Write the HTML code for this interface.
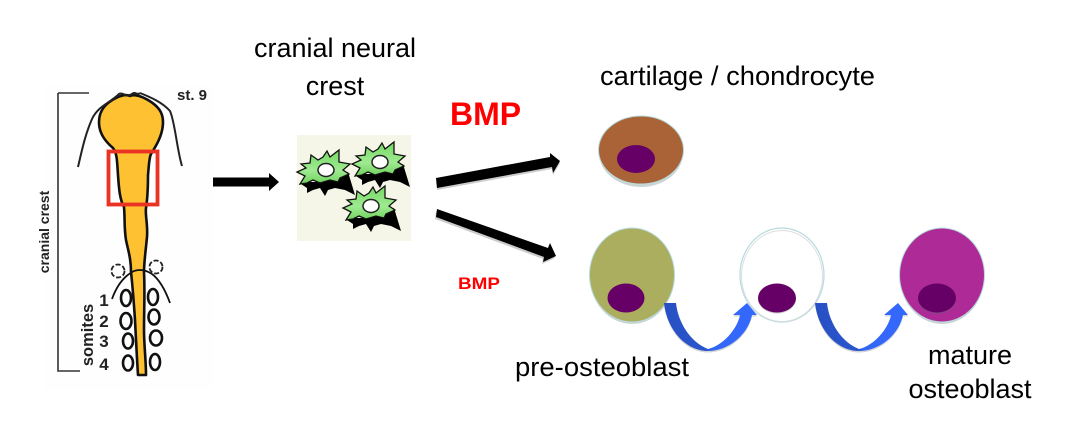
<!DOCTYPE html>
<html><head><meta charset="utf-8"><style>
html,body{margin:0;padding:0;background:#fff}
svg{display:block}
text{font-family:"Liberation Sans",sans-serif}
</style></head><body>
<svg width="1077" height="432" viewBox="0 0 1077 432" xmlns="http://www.w3.org/2000/svg">
<defs>
<linearGradient id="b1" x1="0" x2="1" y1="0" y2="0"><stop offset="0" stop-color="#2850c4"/><stop offset=".45" stop-color="#2a55cc"/><stop offset=".52" stop-color="#3366f5"/><stop offset="1" stop-color="#3469ff"/></linearGradient>
<linearGradient id="g1" x1="0" x2="0" y1="0" y2="1"><stop offset="0" stop-color="#74d863"/><stop offset=".6" stop-color="#a0ea92"/><stop offset="1" stop-color="#6ed25c"/></linearGradient>
<polygon id="star" points="-24,-6 -15,-7 -14,-15 -7,-10 -2,-13 2,-19 5,-13 14,-20 14,-8 25,-6 18,0 24,4 15,8 13,12 5,10 -5,13 -12,10 -18,13 -25,14 -20,6 -28,2 -19,-2"/>
<polygon id="shadow" points="-24,14 -15,12 -2,12 15,7 23,2 30,25 20,20 10,18 3,20 0,26 -5,18 -12,20 -18,23 -18,18"/>
<path id="cv" d="M664,303H676C678,322 690,342 708,349C722,346 737,330 740,315H733L747,303L757,315H752C748,335 728,351 708,351C686,351 667,330 664,303Z"/>
</defs>

<!-- embryo -->
<rect x="45" y="85" width="168" height="305" fill="#fefefe"/>
<path d="M58,93H89M58,93V371H80" fill="none" stroke="#333" stroke-width="1.600"/>
<path d="M130,96C126,94 120,96 116,98C106,103 99,110 99,122C99,134 106,142 113,148C117,153 117,160 118,175C119,190 120,200 124,207C125,218 124,228 126,240C128,250 131,258 131,272C133,290 134,305 135,320C136,340 137,360 138,375H146C146,360 144,345 144,330C144,310 145,290 144,272C144,262 146,248 147,237C148,225 145,215 146,208C148,195 148,185 148,175C149,165 149,158 151,154C156,146 163,135 163,122C163,112 158,106 148,100C141,96 134,94 130,96Z" fill="#fdc132" stroke="#111" stroke-width="2.600" stroke-linejoin="round"/>
<path d="M78,167C82,150 85,135 92,119C98,106 110,103 119,94C122,92 125,96 128,95C131,96 133,92 135,93C137,94 139,94 140,93" fill="none" stroke="#222" stroke-width="2"/>
<path d="M140,93C150,97 162,102 170,111C175,122 177,150 182,166" fill="none" stroke="#222" stroke-width="2"/>
<rect x="108.500" y="151.500" width="49" height="53" fill="none" stroke="#ea3323" stroke-width="3.800"/>
<path d="M112,299C117,285 124,276 134,271C140,269 146,270 152,274C160,280 166,292 170,303" fill="none" stroke="#111" stroke-width="1.800"/>
<circle cx="118" cy="271" r="6.500" fill="none" stroke="#222" stroke-width="1.800" stroke-dasharray="5 2"/>
<circle cx="156" cy="267" r="6.500" fill="none" stroke="#222" stroke-width="1.800" stroke-dasharray="5 2"/>
<g fill="none" stroke="#111" stroke-width="2.600">
<ellipse cx="126" cy="298" rx="5" ry="8"/><ellipse cx="126" cy="321" rx="5.500" ry="8"/><ellipse cx="128" cy="341" rx="5" ry="7.500"/><ellipse cx="128" cy="363" rx="5" ry="7.500"/>
<ellipse cx="153" cy="297" rx="5" ry="8"/><ellipse cx="154" cy="317" rx="5.500" ry="7.500"/><ellipse cx="156" cy="338" rx="6" ry="7.500"/><ellipse cx="155" cy="362" rx="5" ry="8"/>
</g>
<text x="177" y="100" font-size="15" font-weight="bold" fill="#222">st. 9</text>
<text transform="translate(49,232) rotate(-90)" text-anchor="middle" font-size="14" font-weight="bold" fill="#222">cranial crest</text>
<text transform="translate(93,335) rotate(-90)" text-anchor="middle" font-size="16.500" font-weight="bold" fill="#222">somites</text>
<g font-size="17" font-weight="bold" fill="#222" text-anchor="middle">
<text x="104" y="306">1</text><text x="104" y="327">2</text><text x="104" y="347">3</text><text x="104" y="370">4</text>
</g>

<!-- first arrow -->
<polygon points="213,177.500 269,177.500 269,173 279,182 269,191 269,186.500 213,186.500" fill="#000"/>

<!-- cells -->
<rect x="297" y="135" width="114" height="106" fill="#f5f6e8"/>
<g>
<use href="#shadow" x="325" y="170" fill="#000"/><use href="#star" x="325" y="170" fill="url(#g1)" stroke="#111" stroke-width="1.300"/><ellipse cx="326" cy="170" rx="8" ry="6.500" fill="#fff" stroke="#222" stroke-width="1.500"/>
<use href="#shadow" x="380" y="162" fill="#000"/><use href="#star" x="380" y="162" fill="url(#g1)" stroke="#111" stroke-width="1.300"/><ellipse cx="380" cy="162" rx="8" ry="6.500" fill="#fff" stroke="#222" stroke-width="1.500"/>
<use href="#shadow" x="371" y="206" fill="#000"/><use href="#star" x="371" y="206" fill="url(#g1)" stroke="#111" stroke-width="1.300"/><ellipse cx="371" cy="206" rx="8" ry="6.500" fill="#fff" stroke="#222" stroke-width="1.500"/>
</g>

<!-- branch arrows -->
<polygon points="436,178 550,157 550,153 560,161 553,173 552,167 437,188" fill="#ccc" transform="translate(0,2)"/>
<polygon points="436,178 550,157 550,153 560,161 553,173 552,167 437,188" fill="#000"/>
<polygon points="437,209 548,248 550,243 556,256 543,262 544,257 436,217" fill="#ccc" transform="translate(-1,2)"/>
<polygon points="437,209 548,248 550,243 556,256 543,262 544,257 436,217" fill="#000"/>

<!-- cartilage cell -->
<ellipse cx="641" cy="153" rx="42" ry="34" fill="#ccd4d4"/>
<ellipse cx="641" cy="150" rx="42.500" ry="34" fill="#a96336" stroke="#b7dadd" stroke-width="1"/>
<ellipse cx="636" cy="159" rx="19" ry="14" fill="#660066"/>

<!-- pre-osteoblast -->
<ellipse cx="632" cy="277" rx="42" ry="47" fill="#ccd4d4"/>
<ellipse cx="632" cy="275" rx="42.500" ry="47" fill="#abae5f" stroke="#b7dadd" stroke-width="1"/>
<ellipse cx="626" cy="298" rx="18.500" ry="14.500" fill="#660066"/>

<!-- osteoblast white -->
<ellipse cx="782" cy="275" rx="42" ry="47" fill="#fff" stroke="#b7dadd" stroke-width="1.200"/>
<ellipse cx="782" cy="276" rx="40.500" ry="45.500" fill="none" stroke="#ddd" stroke-width="1"/>
<ellipse cx="777" cy="299" rx="19" ry="14.500" fill="#ccc"/>
<ellipse cx="777" cy="298" rx="19" ry="14.500" fill="#660066"/>

<!-- mature osteoblast -->
<ellipse cx="942" cy="277" rx="42" ry="47" fill="#ccd4d4"/>
<ellipse cx="942" cy="275" rx="42.500" ry="47" fill="#ae2a96" stroke="#b7dadd" stroke-width="1"/>
<ellipse cx="937" cy="299" rx="19" ry="15" fill="#8f3f8a"/>
<ellipse cx="937" cy="298" rx="19" ry="14.500" fill="#660066"/>

<!-- curved arrows -->
<use href="#cv" fill="#d5d5d5" y="1.500"/>
<use href="#cv" fill="url(#b1)"/>
<use href="#cv" fill="#d5d5d5" x="151" y="1.500"/>
<use href="#cv" fill="url(#b1)" x="151"/>

<!-- labels -->
<g font-size="27" fill="#000">
<text x="335" y="57" text-anchor="middle">cranial neural</text>
<text x="335" y="95" text-anchor="middle">crest</text>
<text x="600" y="85" textLength="275" lengthAdjust="spacingAndGlyphs">cartilage / chondrocyte</text>
<text x="515" y="376" textLength="174" lengthAdjust="spacingAndGlyphs">pre-osteoblast</text>
<text x="970" y="364" text-anchor="middle">mature</text>
<text x="970" y="398" text-anchor="middle">osteoblast</text>
</g>
<text x="450" y="125" font-size="32" font-weight="bold" fill="#ff0000">BMP</text>
<text x="458" y="289" font-size="17" font-weight="bold" fill="#ff0000" textLength="42" lengthAdjust="spacingAndGlyphs">BMP</text>
</svg>
</body></html>
